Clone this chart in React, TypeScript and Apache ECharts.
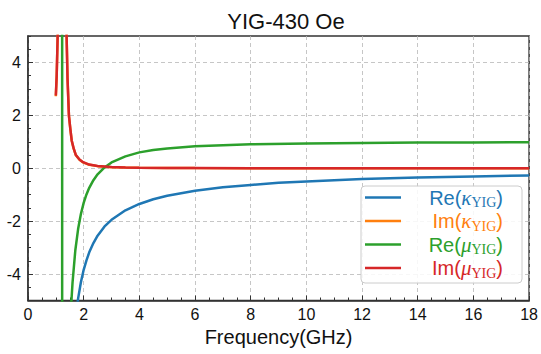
import React, { useEffect, useRef } from "react";
import * as echarts from "echarts";

// ---- data ----
const freqReKappa = [1.75, 1.8, 1.9, 2.0, 2.1, 2.2, 2.35, 2.5, 2.75, 3.0, 3.5, 4.0, 4.5, 5, 6, 7, 8, 9, 10, 12, 14, 16, 18];
const reKappa = [-5.3, -4.93, -4.31, -3.84, -3.48, -3.18, -2.83, -2.55, -2.2, -1.95, -1.59, -1.35, -1.17, -1.04, -0.85, -0.72, -0.63, -0.55, -0.5, -0.41, -0.35, -0.31, -0.27];

const freqReMu = [1.0, 1.1, 1.2, 1.222, 1.232, 1.3, 1.4, 1.5, 1.55, 1.6, 1.7, 1.8, 1.9, 2.0, 2.1, 2.2, 2.35, 2.5, 2.75, 3.0, 3.5, 4.0, 4.5, 5, 6, 7, 8, 10, 12, 14, 16, 18];
const reMu = [14, 24, 140, 600, -600, -24, -11.2, -6.4, -5.19, -4.32, -3.1, -2.3, -1.73, -1.31, -0.99, -0.74, -0.45, -0.23, 0.03, 0.22, 0.45, 0.6, 0.69, 0.75, 0.83, 0.87, 0.906, 0.94, 0.959, 0.97, 0.977, 0.982];

const freqIm = [1.0, 1.03, 1.065, 1.1, 1.15, 1.2, 1.23, 1.26, 1.3, 1.35, 1.387, 1.42, 1.47, 1.52, 1.57, 1.64, 1.72, 1.85, 1.98, 2.2, 2.5, 3.0, 3.5, 4, 5, 6, 8, 12, 18];
const imMu = [2.75, 3.5, 5, 7.5, 15, 60, 100, 60, 25, 8.5, 5, 3.4, 2.0, 1.5, 1.05, 0.75, 0.5, 0.33, 0.23, 0.14, 0.085, 0.044, 0.026, 0.018, 0.01, 0.006, 0.003, 0.0015, 0.0007];
const imKappa = [2.72, 3.45, 4.95, 7.4, 15, 60, 100, 60, 25, 8.4, 4.95, 3.35, 1.98, 1.48, 1.04, 0.74, 0.49, 0.32, 0.22, 0.13, 0.08, 0.04, 0.024, 0.016, 0.009, 0.005, 0.003, 0.0014, 0.0007];

const yTickValues = [-4, -2, 0, 2, 4];

const seriesNames = ["Re(κYIG)", "Im(κYIG)", "Re(μYIG)", "Im(μYIG)"];
const seriesPrefix = ["Re", "Im", "Re", "Im"];
const seriesGreek = ["κ", "κ", "μ", "μ"];
const seriesColors = ["#1f77b4", "#ff7f0e", "#2ca02c", "#d62728"];

const zip = (xs: number[], ys: number[]) => xs.map((x, i) => [x, ys[i]]);

const SANS = "Liberation Sans, Arial, sans-serif";
const SERIF = "Liberation Serif, Times New Roman, serif";

export default function App() {
  const ref = useRef<HTMLDivElement>(null);
  useEffect(() => {
    if (!ref.current) return;
    const chart = echarts.init(ref.current, null, { renderer: "svg" });

    const rich: Record<string, any> = {};
    seriesColors.forEach((c, i) => {
      rich["p" + i] = { color: c, fontSize: 20, fontFamily: SANS, lineHeight: 24, align: "right" };
      rich["g" + i] = { color: c, fontSize: 21, fontStyle: "italic", fontFamily: SERIF, lineHeight: 24, align: "right" };
      rich["s" + i] = { color: c, fontSize: 14, fontFamily: SERIF, lineHeight: 15, verticalAlign: "bottom", align: "right" };
    });

    const gridLine = { color: "#b8b8b8", width: 0.8, type: [4, 3] as any };
    const axisColor = "#333";

    const mkSeries = (i: number, data: number[][]) => ({
      name: seriesNames[i],
      type: "line",
      data,
      color: seriesColors[i],
      showSymbol: false,
      symbol: "none",
      lineStyle: { width: 2.5, color: seriesColors[i] },
      clip: true,
      z: 2 + i,
    });

    chart.setOption({
      animation: false,
      backgroundColor: "#ffffff",
      title: {
        text: "YIG-430 Oe",
        left: 281,
        textAlign: "center",
        top: 5,
        textStyle: { fontSize: 22, fontWeight: "normal", color: "#111", fontFamily: SANS },
      },
      grid: { left: 28, top: 36, width: 502, height: 264.5, show: true, borderColor: axisColor, borderWidth: 1.5, backgroundColor: "transparent" },
      legend: {
        orient: "vertical",
        left: 361,
        top: 186,
        padding: [1, 19, 3, 4],
        itemGap: 1,
        itemWidth: 36,
        itemHeight: 2.5,
        icon: "rect",
        backgroundColor: "rgba(255,255,255,0.85)",
        borderColor: "#cccccc",
        borderWidth: 1,
        borderRadius: 4,
        data: seriesNames,
        formatter: (name: string) => {
          const i = seriesNames.indexOf(name);
          return `{p${i}|${seriesPrefix[i]}(}{g${i}|${seriesGreek[i]}}{s${i}|YIG}{p${i}|)}`;
        },
        textStyle: { width: 97, align: "right", rich },
      },
      xAxis: {
        type: "value",
        min: 0,
        max: 18,
        interval: 2,
        name: "Frequency(GHz)",
        nameLocation: "middle",
        nameGap: 26,
        nameTextStyle: { fontSize: 20, color: "#111", fontFamily: SANS },
        axisLine: { show: true, onZero: false, lineStyle: { color: axisColor, width: 1.5 } },
        axisTick: { show: true, inside: true, length: 5, lineStyle: { color: axisColor, width: 1 } },
        minorTick: { show: true, splitNumber: 4, length: 3, lineStyle: { color: axisColor, width: 1 } },
        axisLabel: { fontSize: 16, color: "#111", margin: 6, fontFamily: SANS },
        splitLine: { show: true, lineStyle: gridLine },
      },
      yAxis: [
        {
          type: "value",
          min: -5,
          max: 5,
          interval: 0.5,
          position: "left",
          axisLine: { show: true, onZero: false, lineStyle: { color: axisColor, width: 1.5 } },
          axisTick: { show: true, inside: true, length: 3, lineStyle: { color: axisColor, width: 1 } },
          axisLabel: {
            fontSize: 16,
            color: "#111",
            margin: 7,
            fontFamily: SANS,
            formatter: (v: number) => (yTickValues.includes(v) ? String(v) : ""),
          },
          splitLine: { show: false },
        },
        {
          type: "value",
          min: -5,
          max: 5,
          position: "left",
          axisLine: { show: false },
          axisTick: { show: true, inside: true, length: 5, customValues: yTickValues, lineStyle: { color: axisColor, width: 1 } },
          axisLabel: { show: false, customValues: yTickValues },
          splitLine: { show: true, lineStyle: gridLine },
        },
      ],
      series: [
        mkSeries(0, zip(freqReKappa, reKappa)),
        mkSeries(1, zip(freqIm, imKappa)),
        mkSeries(2, zip(freqReMu, reMu)),
        mkSeries(3, zip(freqIm, imMu)),
      ],
    });
    return () => chart.dispose();
  }, []);
  return <div ref={ref} style={{ position: "fixed", left: 0, top: 0, width: 541, height: 354 }} />;
}
